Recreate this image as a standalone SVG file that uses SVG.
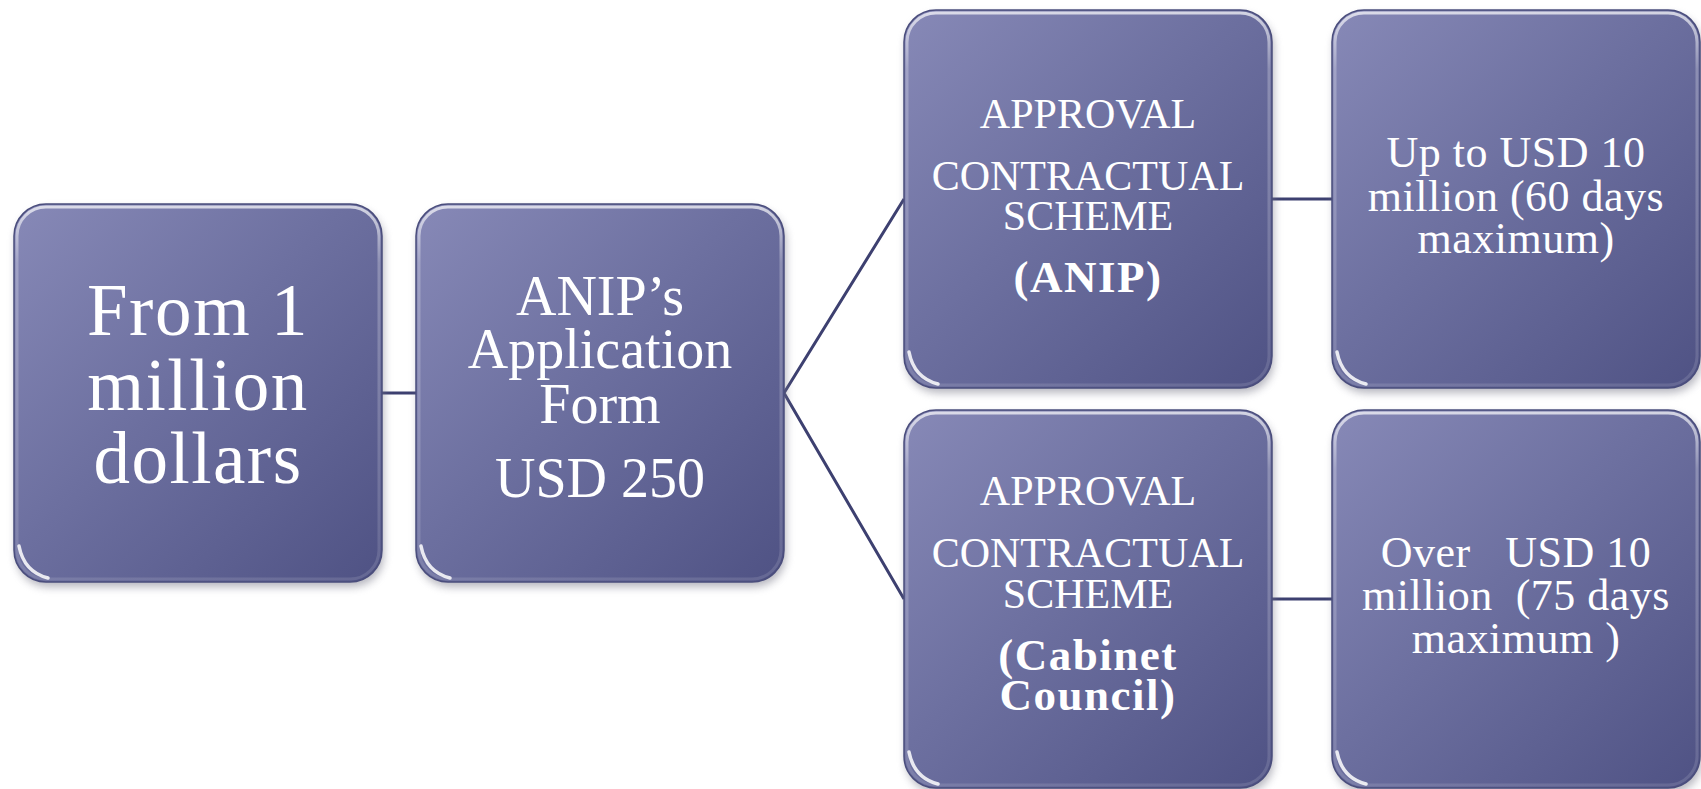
<svg xmlns="http://www.w3.org/2000/svg" xmlns:xlink="http://www.w3.org/1999/xlink" width="1701" height="789" viewBox="0 0 1701 789">
<style>
  text { font-family: "Liberation Serif", "Times New Roman", serif; fill: #ffffff; text-anchor: middle; white-space: pre; }
  .t1 { font-size: 73px; letter-spacing: 1.5px; }
  .t2 { font-size: 56px; }
  .t3 { font-size: 42px; }
  .tb { font-size: 45px; font-weight: bold; letter-spacing: 1.5px; }
  .t4 { font-size: 44px; letter-spacing: 0.5px; }
  .conn { stroke: #3d4070; stroke-width: 3; fill: none; }
</style>
<defs>
  <linearGradient id="fillGrad" x1="0" y1="0" x2="1" y2="1">
    <stop offset="0" stop-color="#8789b7"/>
    <stop offset="0.45" stop-color="#6d70a0"/>
    <stop offset="1" stop-color="#4f5284"/>
  </linearGradient>
  <linearGradient id="rimGrad" x1="0" y1="0" x2="0" y2="1">
    <stop offset="0" stop-color="#ffffff" stop-opacity="0.7"/>
    <stop offset="0.15" stop-color="#ffffff" stop-opacity="0.25"/>
    <stop offset="1" stop-color="#ffffff" stop-opacity="0.12"/>
  </linearGradient>
  <filter id="shadow" x="-10%" y="-10%" width="120%" height="120%">
    <feGaussianBlur stdDeviation="4"/>
  </filter>
  <g id="box">
    <rect x="2" y="5" width="368" height="378" rx="32" fill="#7a7a8a" opacity="0.55" filter="url(#shadow)"/>
    <rect x="0" y="0" width="368" height="378" rx="32" fill="url(#fillGrad)" stroke="#4a4d7c" stroke-width="1.5"/>
    <rect x="3" y="3" width="362" height="372" rx="29" fill="none" stroke="url(#rimGrad)" stroke-width="3"/>
    <path d="M5,342 Q10,368 34,374" fill="none" stroke="#ffffff" stroke-opacity="0.85" stroke-width="3.5" stroke-linecap="round"/>
  </g>
</defs>

<g id="connectors">
  <line class="conn" x1="382" y1="393" x2="416" y2="393"/>
  <path class="conn" d="M904,199 L784,393 L904,599"/>
  <line class="conn" x1="1272" y1="199" x2="1332" y2="199"/>
  <line class="conn" x1="1272" y1="599" x2="1332" y2="599"/>
</g>

<g id="node-from-1-million">
  <use xlink:href="#box" href="#box" x="14" y="204"/>
  <text class="t1" x="198" y="335">From 1</text>
  <text class="t1" x="198" y="410">million</text>
  <text class="t1" x="198" y="483">dollars</text>
</g>

<g id="node-application-form">
  <use xlink:href="#box" href="#box" x="416" y="204"/>
  <text class="t2" x="600" y="315">ANIP’s</text>
  <text class="t2" x="600" y="368">Application</text>
  <text class="t2" x="600" y="423">Form</text>
  <text class="t2" x="600" y="497">USD 250</text>
</g>

<g id="node-approval-anip">
  <use xlink:href="#box" href="#box" x="904" y="10"/>
  <text class="t3" x="1088" y="128">APPROVAL</text>
  <text class="t3" x="1088" y="190">CONTRACTUAL</text>
  <text class="t3" x="1088" y="230">SCHEME</text>
  <text class="tb" x="1088" y="292">(ANIP)</text>
</g>

<g id="node-up-to-10m">
  <use xlink:href="#box" href="#box" x="1332" y="10"/>
  <text class="t4" x="1516" y="167">Up to USD 10</text>
  <text class="t4" x="1516" y="211">million (60 days</text>
  <text class="t4" x="1516" y="253">maximum)</text>
</g>

<g id="node-approval-cabinet">
  <use xlink:href="#box" href="#box" x="904" y="410"/>
  <text class="t3" x="1088" y="505">APPROVAL</text>
  <text class="t3" x="1088" y="567">CONTRACTUAL</text>
  <text class="t3" x="1088" y="608">SCHEME</text>
  <text class="tb" x="1088" y="670">(Cabinet</text>
  <text class="tb" x="1088" y="710">Council)</text>
</g>

<g id="node-over-10m">
  <use xlink:href="#box" href="#box" x="1332" y="410"/>
  <text class="t4" x="1516" y="567">Over   USD 10</text>
  <text class="t4" x="1516" y="610">million  (75 days</text>
  <text class="t4" x="1516" y="653">maximum )</text>
</g>
</svg>
